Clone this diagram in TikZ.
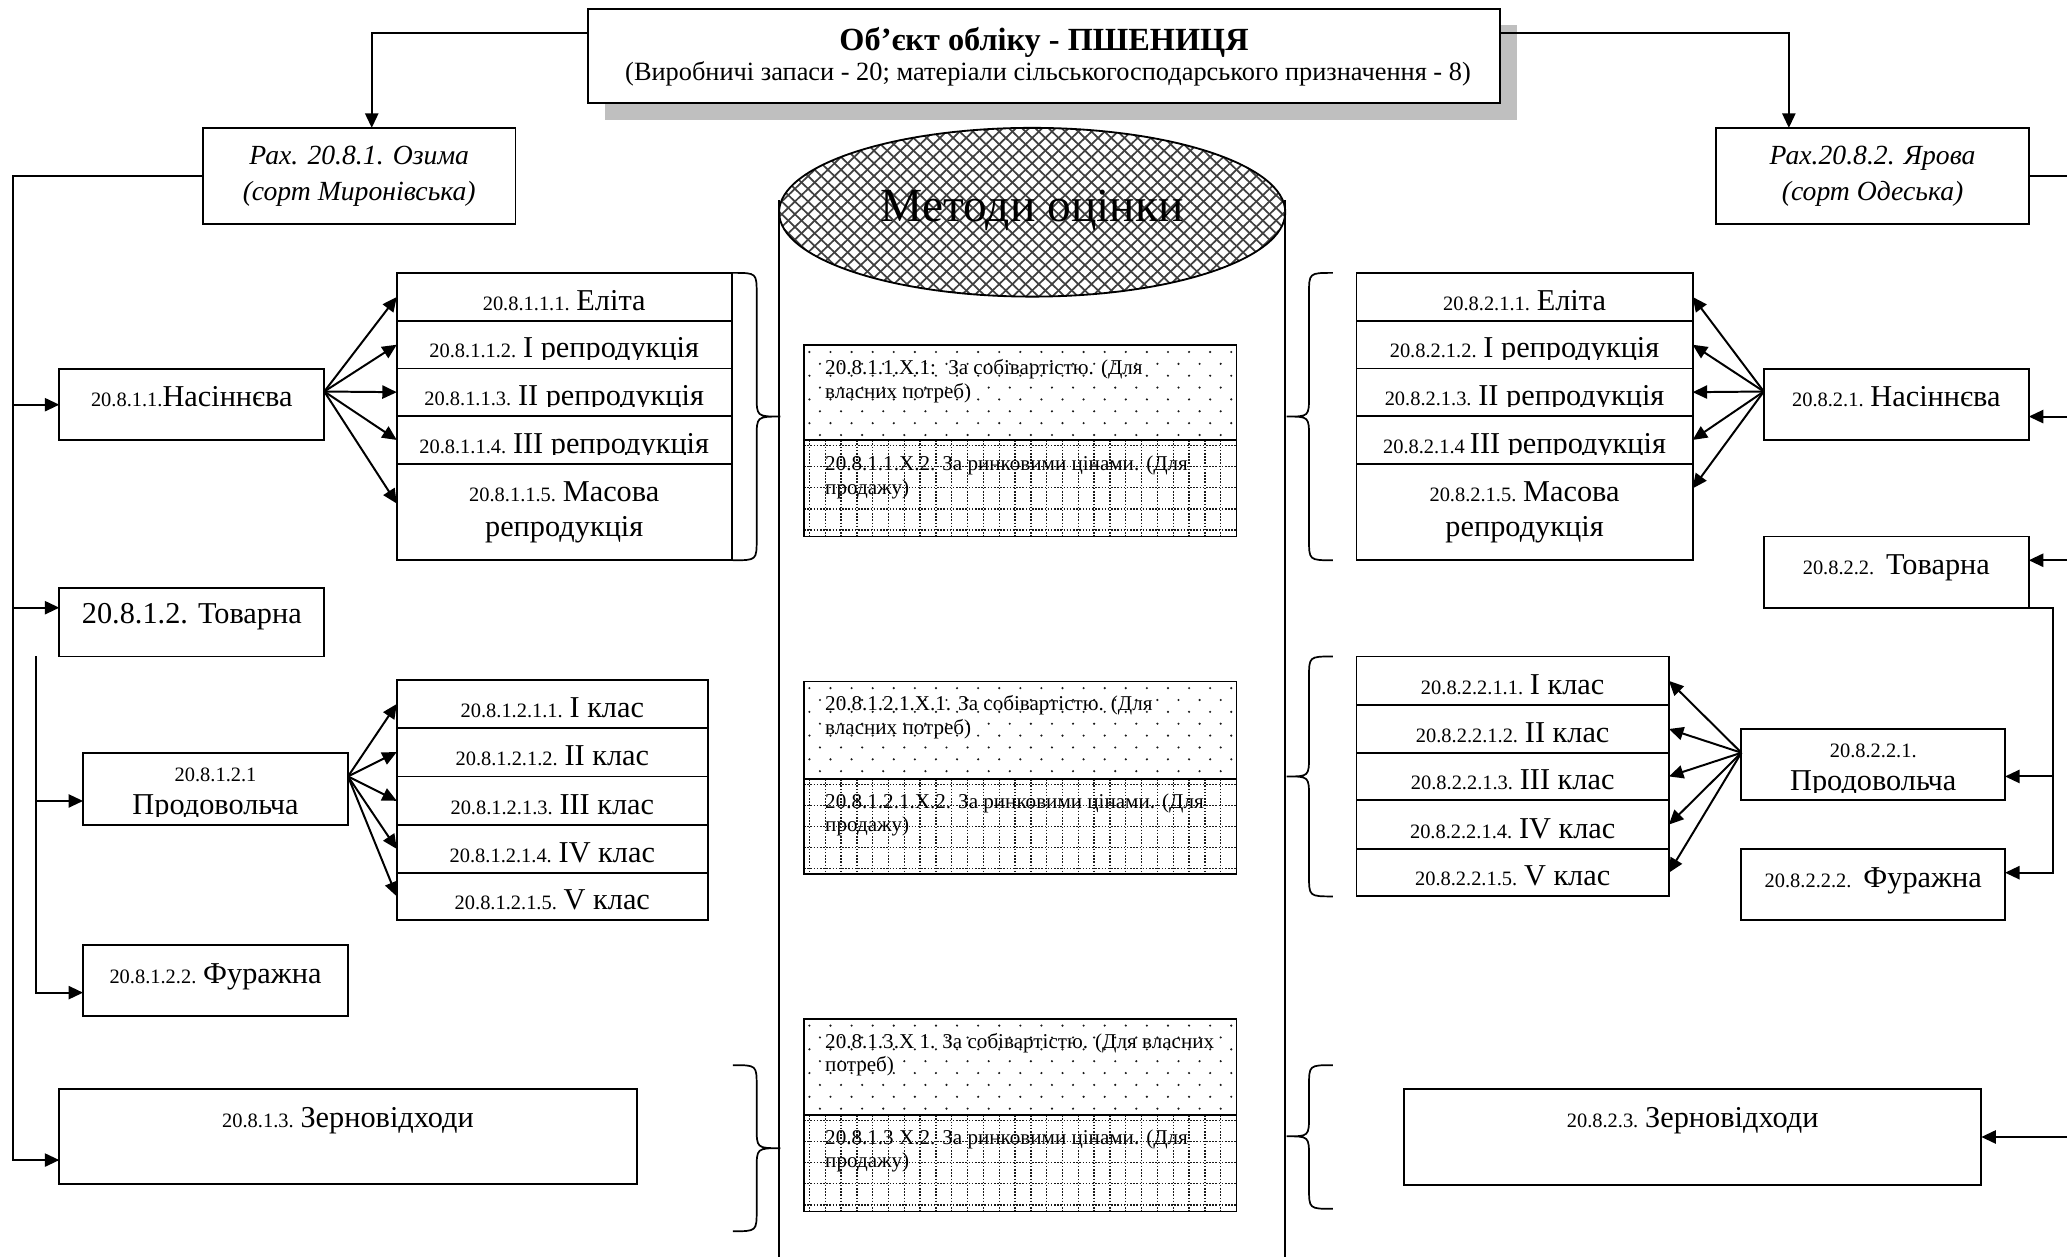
\documentclass[tikz,border=0pt]{standalone}
\usepackage{fontspec}
\setmainfont{Liberation Serif}
\usetikzlibrary{arrows.meta,calc}

\newcommand\FSs{\fontsize{15.5}{18}\selectfont}
\newcommand\FSb{\fontsize{23}{27}\selectfont}
\newcommand\FSm{\fontsize{16}{18}\selectfont}

\tikzset{
 bx/.style={draw, line width=1.4pt, inner sep=0pt, outer sep=0pt},
 lbl/.style={anchor=base, inner sep=0pt, outer sep=0pt},
 mlbl/.style={anchor=base west, inner sep=0pt, outer sep=0pt, font=\FSm},
 conn/.style={line width=1.5pt},
 arr/.style={line width=1.5pt, -{Triangle[length=11pt,width=10pt]}},
 brc/.style={line width=1.3pt},
 gl/.style={line width=1pt, dash pattern=on 1.2pt off 1.2pt, black!90},
 hl/.style={line width=1.3pt, black!75},
}

\newcommand\mkbox[6][]{\node[bx,#1, minimum width={(#5-#3)*1pt}, minimum height={(#6-#4)*1pt}] (#2) at ({(#3+#5)/2},{(#4+#6)/2}) {};}
\newcommand\rowtxt[6]{%
 \mkbox{#1}{#2}{#3}{#4}{#5}
 \begin{scope}
 \clip (#2,#3) rectangle (#4,{#5-7});
 \node[lbl] (#1t) at ({(#2+#4)/2},{#5-8}) {#6};
 \end{scope}}
\newcommand\mkdots[4]{%
 \begin{scope}
 \clip (#1,#2) rectangle (#3,#4);
 \foreach \j [evaluate=\j as \off using {mod(\j,2)*8}] in {0,...,8}{\foreach \i in {0,...,21}{
 \fill[black!90] ({#1+4+\off+\i*16},{#2+5+\j*9}) circle[radius=0.9];}}
 \end{scope}}
\newcommand\mkgrid[4]{%
 \begin{scope}
 \clip (#1,#2) rectangle (#3,#4);
 \foreach \i in {0,...,28}{\draw[gl] ({#1+4+\i*12},#2) -- ({#1+4+\i*12},#4);}
 \foreach \j in {0,...,4}{\draw[gl] (#1,{#2+4+\j*16}) -- (#3,{#2+4+\j*16});}
 \end{scope}}
\newcommand\mkbrace[6]{\draw[brc] (#1,#4) .. controls (#2,#4) .. (#2,{#4+16}) -- (#2,{#5-16}) .. controls (#2,#5) .. (#3,#5) .. controls (#2,#5) .. (#2,{#5+16}) -- (#2,{#6-16}) .. controls (#2,#6) .. (#1,#6);}

\begin{document}
\begin{tikzpicture}[x=1pt,y=-1pt]
\useasboundingbox (0,0) rectangle (1568,953);
\clip (0,0) rectangle (1568,953);
\fill[white] (0,0) rectangle (1568,953);

% cylinder "Методи оцінки"
\draw[line width=1.4pt] (591,152) -- (591,960);
\draw[line width=1.4pt] (975,152) -- (975,960);
\begin{scope}
 \clip (783,161) ellipse [x radius=192, y radius=64];
 \foreach \k in {-32,...,32}{
  \draw[hl] ({783+\k*10-70},95) -- ({783+\k*10+70},230);
  \draw[hl] ({783+\k*10+70},95) -- ({783+\k*10-70},230);
 }
\end{scope}
\draw[line width=1.4pt] (783,161) ellipse [x radius=192, y radius=64];
\node[lbl] (meth) at (783,168) {\fontsize{36}{40}\selectfont Методи оцінки};

% method boxes
\mkdots{610}{262}{938}{334}
\mkgrid{610}{334}{938}{407}
\mkdots{610}{517}{938}{591}
\mkgrid{610}{591}{938}{663}
\mkdots{610}{773}{938}{846}
\mkgrid{610}{846}{938}{919}
\mkbox{m1a}{610}{262}{938}{334}
\mkbox{m1b}{610}{334}{938}{407}
\mkbox{m2a}{610}{517}{938}{591}
\mkbox{m2b}{610}{591}{938}{663}
\mkbox{m3a}{610}{773}{938}{846}
\mkbox{m3b}{610}{846}{938}{919}
\node[mlbl] (m1a1) at (626,284) {20.8.1.1.Х.1:~ За собівартістю. (Для};
\node[mlbl] (m1a2) at (626,302) {власних потреб)};
\node[mlbl] (m1b1) at (626,357) {20.8.1.1.Х.2. За ринковими цінами. (Для};
\node[mlbl] (m1b2) at (626,375) {продажу)};
\node[mlbl] (m2a1) at (626,539) {20.8.1.2.1.Х.1. За собівартістю. (Для};
\node[mlbl] (m2a2) at (626,557) {власних потреб)};
\node[mlbl] (m2b1) at (626,613) {20.8.1.2.1.Х.2. За ринковими цінами. (Для};
\node[mlbl] (m2b2) at (626,631) {продажу)};
\node[mlbl] (m3a1) at (626,795) {20.8.1.3.Х 1. За собівартістю. (Для власних};
\node[mlbl] (m3a2) at (626,813) {потреб)};
\node[mlbl] (m3b1) at (626,868) {20.8.1.3 Х.2. За ринковими цінами. (Для};
\node[mlbl] (m3b2) at (626,886) {продажу)};

% title
\fill[black!25] (459,19) rectangle (1151,91);
\mkbox[fill=white]{T}{446}{7}{1138}{78}
\node[lbl] (Tt1) at (792,38) {\fontsize{24.5}{28}\selectfont\bfseries Об’єкт обліку - ПШЕНИЦЯ};
\node[lbl] (Tt2) at (795,61) {\fontsize{20}{24}\selectfont (Виробничі запаси - 20; матеріали сільськогосподарського призначення - 8)};

% accounts
\mkbox{oz}{154}{97}{391}{170}
\node[lbl] (ozt1) at (272.5,125) {\fontsize{21}{24}\selectfont\itshape Рах. 20.8.1. Озима};
\node[lbl] (ozt2) at (272.5,152) {\fontsize{21}{24}\selectfont\itshape (сорт Миронівська)};
\mkbox{yar}{1302}{97}{1539}{170}
\node[lbl] (yart1) at (1420.5,125) {\fontsize{21}{24}\selectfont\itshape Рах.20.8.2. Ярова};
\node[lbl] (yart2) at (1420.5,152) {\fontsize{21}{24}\selectfont\itshape (сорт Одеська)};

% left side
\mkbox{nasL}{45}{280}{246}{334}
\node[lbl] (nasLt) at (145.5,308.5) {\FSs 20.8.1.1.\FSb Насіннєва};
\mkbox{tovL}{45}{446}{246}{498}
\node[lbl] (tovLt) at (145.5,473) {\FSb 20.8.1.2. Товарна};
\mkbox{prodL}{63}{571}{264}{626}
\node[lbl] (prodLt1) at (163.5,593) {\FSs 20.8.1.2.1};
\begin{scope}\clip (63,571) rectangle (264,619);
\node[lbl] (prodLt2) at (163.5,618) {\FSb Продовольча};
\end{scope}
\mkbox{furL}{63}{717}{264}{771}
\node[lbl] (furLt) at (163.5,746) {\FSs 20.8.1.2.2. \FSb Фуражна};
\mkbox{zerL}{45}{826}{483}{898}
\node[lbl] (zerLt) at (264,855) {\FSs 20.8.1.3. \FSb Зерновідходи};

\rowtxt{a1}{301}{207}{555}{243.5}{\FSs 20.8.1.1.1. \FSb Еліта}
\rowtxt{a2}{301}{243.5}{555}{279.5}{\FSs 20.8.1.1.2. \FSb I репродукція}
\rowtxt{a3}{301}{279.5}{555}{315.5}{\FSs 20.8.1.1.3. \FSb II репродукція}
\rowtxt{a4}{301}{315.5}{555}{352}{\FSs 20.8.1.1.4. \FSb III репродукція}
\mkbox{a5}{301}{352}{555}{425}
\node[lbl] (a5t1) at (428,380.5) {\FSs 20.8.1.1.5. \FSb Масова};
\node[lbl] (a5t2) at (428,407) {\FSb репродукція};

\rowtxt{b1}{301}{516}{537}{552}{\FSs 20.8.1.2.1.1. \FSb I клас}
\rowtxt{b2}{301}{552}{537}{589}{\FSs 20.8.1.2.1.2. \FSb II клас}
\rowtxt{b3}{301}{589}{537}{626}{\FSs 20.8.1.2.1.3. \FSb III клас}
\rowtxt{b4}{301}{626}{537}{662}{\FSs 20.8.1.2.1.4. \FSb IV клас}
\rowtxt{b5}{301}{662}{537}{698}{\FSs 20.8.1.2.1.5. \FSb V клас}

% right side
\mkbox{nasR}{1338}{280}{1539}{334}
\node[lbl] (nasRt) at (1438.5,308.5) {\FSs 20.8.2.1. \FSb Насіннєва};
\mkbox{tovR}{1338}{407}{1539}{461}
\node[lbl] (tovRt) at (1438.5,436) {\FSs 20.8.2.2.~ \FSb Товарна};
\mkbox{prodR}{1321}{553}{1521}{607}
\node[lbl] (prodRt1) at (1421,575) {\FSs 20.8.2.2.1.};
\begin{scope}\clip (1321,553) rectangle (1521,601);
\node[lbl] (prodRt2) at (1421,600) {\FSb Продовольча};
\end{scope}
\mkbox{furR}{1321}{644}{1521}{698}
\node[lbl] (furRt) at (1421,673) {\FSs 20.8.2.2.2.~ \FSb Фуражна};
\mkbox{zerR}{1065}{826}{1503}{899}
\node[lbl] (zerRt) at (1284,855) {\FSs 20.8.2.3. \FSb Зерновідходи};

\rowtxt{c1}{1029}{207}{1284}{243.5}{\FSs 20.8.2.1.1. \FSb Еліта}
\rowtxt{c2}{1029}{243.5}{1284}{279.5}{\FSs 20.8.2.1.2. \FSb I репродукція}
\rowtxt{c3}{1029}{279.5}{1284}{315.5}{\FSs 20.8.2.1.3. \FSb II репродукція}
\rowtxt{c4}{1029}{315.5}{1284}{352}{\FSs 20.8.2.1.4 \FSb III репродукція}
\mkbox{c5}{1029}{352}{1284}{425}
\node[lbl] (c5t1) at (1156.5,380.5) {\FSs 20.8.2.1.5. \FSb Масова};
\node[lbl] (c5t2) at (1156.5,407) {\FSb репродукція};

\rowtxt{d1}{1029}{498}{1266}{535}{\FSs 20.8.2.2.1.1. \FSb I клас}
\rowtxt{d2}{1029}{535}{1266}{571}{\FSs 20.8.2.2.1.2. \FSb II клас}
\rowtxt{d3}{1029}{571}{1266}{607}{\FSs 20.8.2.2.1.3. \FSb III клас}
\rowtxt{d4}{1029}{607}{1266}{644}{\FSs 20.8.2.2.1.4. \FSb IV клас}
\rowtxt{d5}{1029}{644}{1266}{680}{\FSs 20.8.2.2.1.5. \FSb V клас}

% connectors from title
\draw[arr] ([yshift=17.5pt]T.west) -| ([xshift=9.5pt]oz.north);
\draw[arr] ([yshift=17.5pt]T.east) -| ([xshift=-63.5pt]yar.north);

% left trunk
\coordinate (L0) at (10,880);
\coordinate (L1) at (10,307);
\coordinate (L2) at (10,461);
\draw[arr] (oz.west) -| (L0) -- (L0 -| zerL.west);
\draw[arr] (L1) -- (nasL.west);
\draw[arr] (L2) -- (L2 -| tovL.west);
\coordinate (S0) at (27,498);
\coordinate (S1) at (27,607.6);
\coordinate (S2) at (27,753);
\draw[arr] (S0) -- (S2) -- (S2 -| furL.west);
\draw[arr] (S1) -- (S1 -| prodL.west);

% right trunk
\coordinate (R0) at (1573,870);
\coordinate (R1) at (1573,316);
\coordinate (R2) at (1573,425);
\coordinate (R3) at (1573,862.5);
\draw[conn] (yar.east) -| (R0);
\draw[arr] (R1) -- (R1 -| nasR.east);
\draw[arr] (R2) -- (R2 -| tovR.east);
\draw[arr] (R3) -- (zerR.east);
\coordinate (Q1) at (1557,589);
\coordinate (Q2) at (1557,662);
\draw[arr] (tovR.south east) -| (Q2) -- (Q2 -| furR.east);
\draw[arr] (Q1) -- (Q1 -| prodR.east);

% fans
\foreach \nn in {a1,a2,a3,a4}{\draw[arr] ([yshift=10pt]nasL.east) -- (\nn.west);}
\draw[arr] ([yshift=10pt]nasL.east) -- ([yshift=6.5pt]a5.west);
\foreach \nn in {b1,b2,b3,b4,b5}{\draw[arr] ([yshift=9.5pt]prodL.east) -- (\nn.west);}
\foreach \nn in {c1,c2,c3,c4}{\draw[arr] ([yshift=10pt]nasR.west) -- (\nn.east);}
\draw[arr] ([yshift=10pt]nasR.west) -- ([yshift=18pt]c5.east);
\foreach \nn in {d1,d2,d3,d4,d5}{\draw[arr] ([yshift=9pt]prodR.west) -- (\nn.east);}

% braces
\mkbrace{556}{574}{592}{207}{316}{425}
\mkbrace{556}{574}{592}{808}{871}{934}
\mkbrace{1011}{993}{976}{207}{316}{425}
\mkbrace{1011}{993}{976}{498}{589}{680}
\mkbrace{1011}{993}{976}{808}{862}{917}
\end{tikzpicture}
\end{document}
